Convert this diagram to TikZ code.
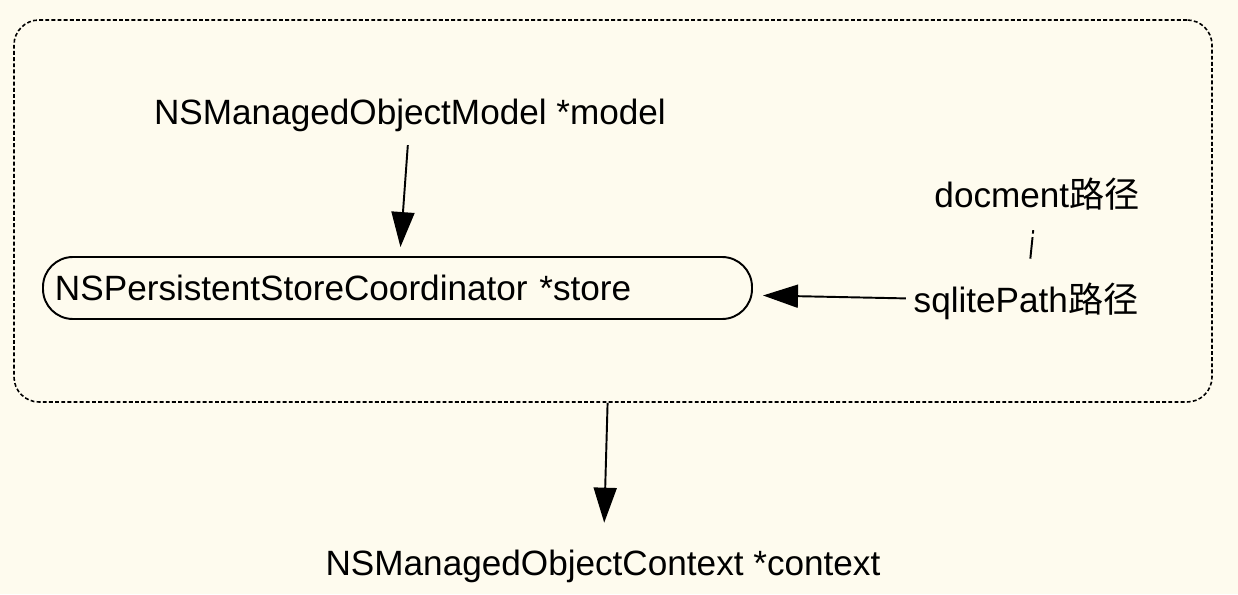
\documentclass[tikz,border=0pt]{standalone}
\usepackage{fontspec}
\setmainfont{Liberation Sans}
\newfontfamily\cjk{Noto Sans CJK SC}
\usepackage{xcolor}
\usetikzlibrary{arrows.meta, positioning, calc}
\definecolor{paper}{RGB}{254,251,238}

\begin{document}
\begin{tikzpicture}[
    font=\fontsize{20}{24}\selectfont,
    label/.style={inner sep=0.15cm, anchor=base},
    frame/.style={draw, dash pattern=on 2.2pt off 1.3pt, line width=0.9pt, rounded corners=0.5cm, minimum width=23.96cm, minimum height=7.64cm},
    storebox/.style={draw, line width=1.1pt, rounded corners=0.6cm, minimum width=14.18cm, minimum height=1.24cm, text width=13.7cm, align=left, inner xsep=0.24cm},
    arrow/.style={-{Triangle[length=0.7cm, width=0.46cm]}, line width=1.1pt}
]

% Background
\fill[paper] (0,0) rectangle (24.76,11.88);
\useasboundingbox (0,0) rectangle (24.76,11.88);

% Nodes
\node[frame] (frame) at (12.26,7.66) {};
\node[label] (model) at (8.2,9.4) {NSManagedObjectModel *model};
\node[storebox] (store) at (7.95,6.12) {NSPersistentStoreCoordinator *store};
\node[label] (docpath) at (20.74,7.74) {docment{\cjk 路径}};
\node[label] (sqlitepath) at (20.52,5.64) {sqlitePath{\cjk 路径}};
\node[label] (context) at (12.06,0.38) {NSManagedObjectContext *context};

% Arrows
\draw[arrow, shorten <=0.12cm, shorten >=0.18cm] (model) -- (store);
\draw[arrow, shorten <=0.0cm, shorten >=0.2cm] (sqlitepath) -- (store);
\draw[line width=1.1pt, dash pattern=on 2pt off 2pt on 14pt off 3pt, shorten <=0.25cm, shorten >=0.32cm] (docpath) -- (sqlitepath);
\draw[arrow, shorten >=0.38cm] (frame) -- (context);

\end{tikzpicture}
\end{document}
